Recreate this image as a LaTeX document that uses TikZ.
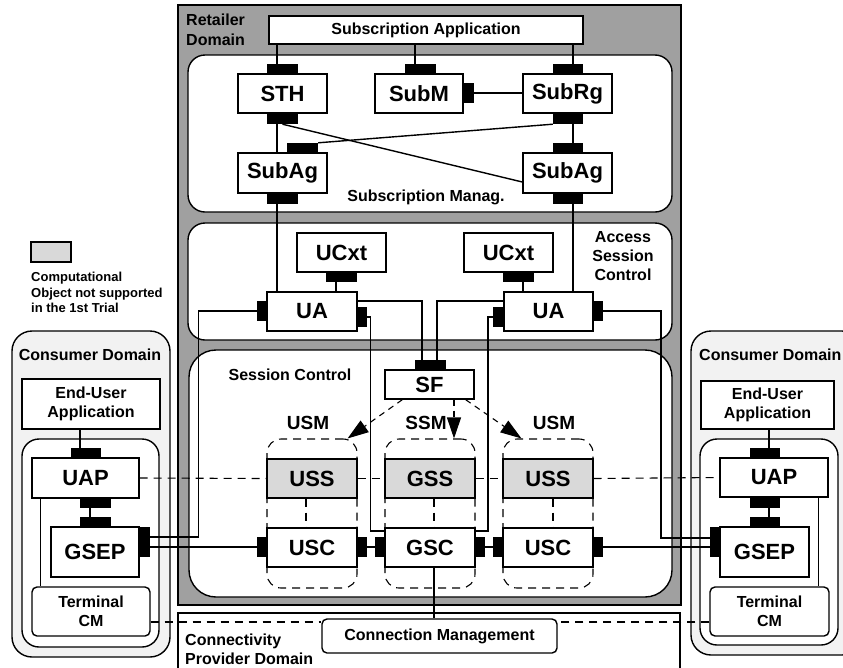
\documentclass[tikz,border=0pt]{standalone}
\usepackage{fontspec}
\setmainfont{Liberation Sans}
\usetikzlibrary{arrows.meta,calc}
\definecolor{retgrey}{HTML}{A0A0A0}
\definecolor{cogrey}{HTML}{D9D9D9}
\definecolor{domgrey}{HTML}{F2F2F2}

% box node given by its corners: name, style, x1, y1, x2, y2, text
\newcommand\cobox[7]{\node[#2, minimum width={(#5)-(#3)}, minimum height={(#6)-(#4)}] (#1) at ({((#3)+(#5))/2},{((#4)+(#6))/2}) {#7};}

\begin{document}
\begin{tikzpicture}[x=1pt,y=-1pt,
  domframe/.style={draw, line width=1.4pt},
  obj/.style={draw, fill=white, line width=1.4pt, inner sep=0pt, font=\bfseries\fontsize{22}{24}\selectfont},
  notyet/.style={obj, fill=cogrey},
  objsm/.style={obj, align=center, font=\bfseries\fontsize{16}{19.5}\selectfont},
  tcm/.style={objsm, rounded corners=5pt},
  cport/.style={fill=black, draw=none, inner sep=0pt},
  grp/.style={draw, line width=1.1pt, dash pattern=on 8pt off 6pt, rounded corners=14pt, inner sep=0pt},
  lbl/.style={font=\bfseries\fontsize{16}{19}\selectfont, inner sep=0pt, align=center},
  grplbl/.style={font=\bfseries\fontsize{19}{21}\selectfont, inner sep=0pt},
  wire/.style={line width=1.4pt},
  dline/.style={line width=1.1pt, dash pattern=on 8pt off 6pt},
  darrow/.style={line width=1.1pt, dash pattern=on 6pt off 5pt, -{Triangle[length=21pt,width=14pt]}}
]
\useasboundingbox (0,0) rectangle (843,667);
\clip (0,0) rectangle (843,667);
\fill[white] (0,0) rectangle (843,667);

% ---------------- domains and frames ----------------
\draw[domframe, fill=retgrey] (178,5) rectangle (681,605);
\node[lbl, align=left, anchor=west, font=\bfseries\fontsize{16}{20}\selectfont] (retlbl) at (186,30) {Retailer\\Domain};

\draw[domframe, fill=white, rounded corners=17pt] (188,55) rectangle (672,212);
\node[lbl] (smlbl) at (426,197) {Subscription Manag.};

\draw[domframe, fill=white, rounded corners=17pt] (188,223) rectangle (672,340);
\node[lbl] (asclbl) at (623,256) {Access\\Session\\Control};

\draw[domframe, fill=white, rounded corners=27pt] (189,350) rectangle (672,597);
\node[lbl] (sclbl) at (290,375) {Session Control};

\draw[domframe, fill=white] (178,613) rectangle (680,700);
\node[lbl, align=left, anchor=west] (cpdlbl) at (185,649) {Connectivity\\Provider Domain};

\draw[domframe, fill=domgrey, rounded corners=20pt] (12,331) rectangle (170,657);
\node[lbl] (cdlbl) at (90,355) {Consumer Domain};
\draw[domframe, fill=white, rounded corners=17pt] (22,439) rectangle (159,647);

\draw[domframe, fill=domgrey, rounded corners=20pt] (691,331) rectangle (862,655);
\node[lbl, anchor=west] (cdrlbl) at (699,355) {Consumer Domain};
\draw[domframe, fill=white, rounded corners=17pt] (700,439) rectangle (838,645);

% ---------------- legend ----------------
\cobox{legbox}{notyet}{31}{242}{71}{262}{}
\node[font=\bfseries\fontsize{13}{15.5}\selectfont, align=left, anchor=north west, inner sep=0pt] (legtxt) at (31,272) {Computational\\Object not supported\\in the 1st Trial};

% ---------------- subscription management ----------------
\cobox{sa}{objsm}{269}{16}{583}{44}{Subscription Application}
\cobox{sth}{obj}{238}{74}{327}{113}{STH}
\cobox{sthT}{cport}{267}{64}{298}{74}{}
\cobox{sthB}{cport}{267}{113}{298}{124}{}
\cobox{subm}{obj}{375}{74}{463}{113}{SubM}
\cobox{submT}{cport}{405}{64}{436}{74}{}
\cobox{submR}{cport}{463}{83}{474}{103}{}
\cobox{subrg}{obj}{523}{74}{612}{113}{SubRg}
\cobox{subrgT}{cport}{553}{64}{583}{74}{}
\cobox{subrgB}{cport}{553}{113}{583}{124}{}
\cobox{subagl}{obj}{238}{153}{327}{193}{SubAg}
\cobox{subaglT}{cport}{287}{143}{318}{153}{}
\cobox{subaglB}{cport}{267}{193}{298}{204}{}
\cobox{subagr}{obj}{523}{153}{612}{193}{SubAg}
\cobox{subagrT}{cport}{553}{143}{583}{153}{}
\cobox{subagrB}{cport}{553}{193}{583}{204}{}

% ---------------- access session control ----------------
\cobox{ucxl}{obj}{297}{233}{386}{272}{UCxt}
\cobox{ucxlP}{cport}{326}{272}{357}{282}{}
\cobox{ual}{obj}{267}{292}{357}{331}{UA}
\cobox{ualL}{cport}{257}{301}{267}{321}{}
\cobox{ualR}{cport}{357}{307}{367}{327}{}
\cobox{ucxr}{obj}{464}{233}{553}{272}{UCxt}
\cobox{ucxrP}{cport}{503}{272}{534}{282}{}
\cobox{uar}{obj}{504}{292}{593}{331}{UA}
\cobox{uarL}{cport}{493}{307}{504}{327}{}
\cobox{uarR}{cport}{593}{301}{603}{321}{}

% ---------------- session control ----------------
\cobox{sf}{obj}{385}{370}{474}{399}{SF}
\cobox{sfT}{cport}{415}{360}{446}{370}{}
\node[grplbl] (usmL) at (308,423) {USM};
\node[grplbl] (ssm) at (426,423) {SSM};
\node[grplbl] (usmR) at (554,423) {USM};
\cobox{grpL}{grp}{267}{439}{357}{588}{}
\cobox{grpM}{grp}{385}{439}{475}{588}{}
\cobox{grpR}{grp}{503}{439}{593}{588}{}
\cobox{ussl}{notyet}{267}{459}{357}{498}{USS}
\cobox{gss}{notyet}{385}{459}{475}{498}{GSS}
\cobox{ussr}{notyet}{503}{459}{593}{498}{USS}
\cobox{uscl}{obj}{267}{528}{357}{567}{USC}
\cobox{usclL}{cport}{257}{537}{267}{557}{}
\cobox{usclR}{cport}{357}{537}{367}{557}{}
\cobox{gsc}{obj}{385}{528}{475}{567}{GSC}
\cobox{gscL}{cport}{375}{537}{385}{557}{}
\cobox{gscR}{cport}{475}{537}{485}{557}{}
\cobox{uscr}{obj}{503}{528}{593}{567}{USC}
\cobox{uscrL}{cport}{493}{537}{503}{557}{}
\cobox{uscrR}{cport}{593}{537}{603}{557}{}

% ---------------- connectivity ----------------
\cobox{cm}{tcm}{322}{619}{557}{653}{Connection Management}

% ---------------- consumer domains ----------------
\cobox{eual}{objsm}{22}{379}{160}{429}{End-User\\Application}
\cobox{uapl}{obj}{32}{458}{139}{498}{UAP}
\cobox{uaplT}{cport}{71}{448}{101}{458}{}
\cobox{uaplB}{cport}{80}{498}{111}{508}{}
\cobox{gsepl}{obj}{51}{527}{139}{577}{GSEP}
\cobox{gseplT}{cport}{80}{517}{111}{527}{}
\cobox{gseplR}{cport}{139}{527}{150}{557}{}
\cobox{tcml}{tcm}{32}{587}{150}{636}{Terminal\\CM}

\cobox{euar}{objsm}{701}{381}{834}{429}{End-User\\Application}
\cobox{uapr}{obj}{720}{458}{828}{497}{UAP}
\cobox{uaprT}{cport}{750}{448}{780}{458}{}
\cobox{uaprB}{cport}{750}{497}{780}{508}{}
\cobox{gsepr}{obj}{720}{527}{809}{577}{GSEP}
\cobox{gseprT}{cport}{750}{517}{780}{527}{}
\cobox{gseprL}{cport}{710}{527}{720}{557}{}
\cobox{tcmr}{tcm}{710}{587}{829}{636}{Terminal\\CM}

% ---------------- solid connectors ----------------
\draw[wire] ([xshift=-5.5pt]sthT.north) -- ([xshift=-5.5pt]sthT.north |- sa.south);
\draw[wire] ([xshift=-5.5pt]submT.north) -- ([xshift=-5.5pt]submT.north |- sa.south);
\draw[wire] ([xshift=5pt]subrgT.north) -- ([xshift=5pt]subrgT.north |- sa.south);
\draw[wire] (submR.east) -- (submR.east -| subrg.west);
\draw[wire] ([xshift=-5.5pt]sthB.south) -- ([xshift=-5.5pt]sthB.south |- subagl.north);
\draw[wire] ([xshift=5pt]subrgB.south) -- ([xshift=5pt]subrgB.south |- subagrT.north);
\draw[wire] (sthB.south) -- ([yshift=-9pt]subagr.west);
\draw[wire] (subaglT.north east) -- (subrgB.south west);
\draw[wire] ([xshift=-5.5pt]subaglB.south) -- ([xshift=-5.5pt]subaglB.south |- ual.north);
\draw[wire] ([xshift=5pt]subagrB.south) -- ([xshift=5pt]subagrB.south |- uar.north);
\draw[wire] ([xshift=-5.5pt]ucxlP.south) -- ([xshift=-5.5pt]ucxlP.south |- ual.north);
\draw[wire] ([xshift=4.5pt]ucxrP.south) -- ([xshift=4.5pt]ucxrP.south |- uar.north);
\draw[wire] ([yshift=10.5pt]ual.east) -| ([xshift=-8.5pt]sfT.north);
\draw[wire] ([yshift=10.5pt]uar.west) -| ([xshift=6.5pt]sfT.north);
\draw[wire] (ualR.east) -- ++(3,0) |- ([yshift=16.5pt]gsc.west);
\draw[wire] (uarL.west) -- ++(-5,0) |- ([yshift=16.5pt]gsc.east);
\draw[wire] ([yshift=5pt]gseplR.east) -- ++(48,0) |- (ualL.west);
\draw[wire] ([yshift=-5pt]gseplR.east) -- (usclL.west);
\draw[wire] ([yshift=4pt]gseprL.west) -- ++(-49,0) |- (uarR.east);
\draw[wire] ([yshift=-5pt]gseprL.west) -- (uscrR.east);
\draw[wire] (usclR.east) -- (gscL.west);
\draw[wire] (gscR.east) -- (uscrL.west);
\draw[wire] ([xshift=4pt]gsc.south) -- ([xshift=4pt]gsc.south |- cm.north);

\draw[wire] ([xshift=-6pt]uaplT.north) -- ([xshift=-6pt]uaplT.north |- eual.south);
\draw[wire] ([xshift=-5.5pt]uaplB.south) -- ([xshift=-5.5pt]uaplB.south |- gseplT.north);
\draw[wire] ([xshift=9pt]uapl.south west) -- ([xshift=9pt]uapl.south west |- tcml.north);
\draw[wire] ([xshift=4pt]uaprT.north) -- ([xshift=4pt]uaprT.north |- euar.south);
\draw[wire] ([xshift=4pt]uaprB.south) -- ([xshift=4pt]uaprB.south |- gseprT.north);
\draw[wire] ([xshift=-10pt]uapr.south east) -- ([xshift=-10pt]uapr.south east |- tcmr.north);

% ---------------- dashed relations ----------------
\draw[dline] (uapl.east) -- (ussl.west);
\draw[dline] (ussl.east) -- (gss.west);
\draw[dline] (gss.east) -- (ussr.west);
\draw[dline] (ussr.east) -- (uapr.west);
\draw[dline] ([xshift=-6pt]ussl.south) -- ([xshift=-6pt]ussl.south |- uscl.north);
\draw[dline] ([xshift=4pt]gss.south) -- ([xshift=4pt]gss.south |- gsc.north);
\draw[dline] ([xshift=5pt]ussr.south) -- ([xshift=5pt]ussr.south |- uscr.north);
\draw[dline] ([yshift=-10.5pt]tcml.east) -- ([yshift=-10.5pt]tcml.east -| cm.west);
\draw[dline] ([yshift=-10.5pt]tcmr.west) -- ([yshift=-10.5pt]tcmr.west -| cm.east);
\draw[darrow] ([xshift=18pt]sf.south west) -- ([xshift=-10pt]grpL.north east);
\draw[darrow] ([xshift=24.5pt]sf.south) -- ([xshift=24.5pt]sf.south |- grpM.north);
\draw[darrow] ([xshift=-9pt]sf.south east) -- ([xshift=19pt]grpR.north west);
\end{tikzpicture}
\end{document}
